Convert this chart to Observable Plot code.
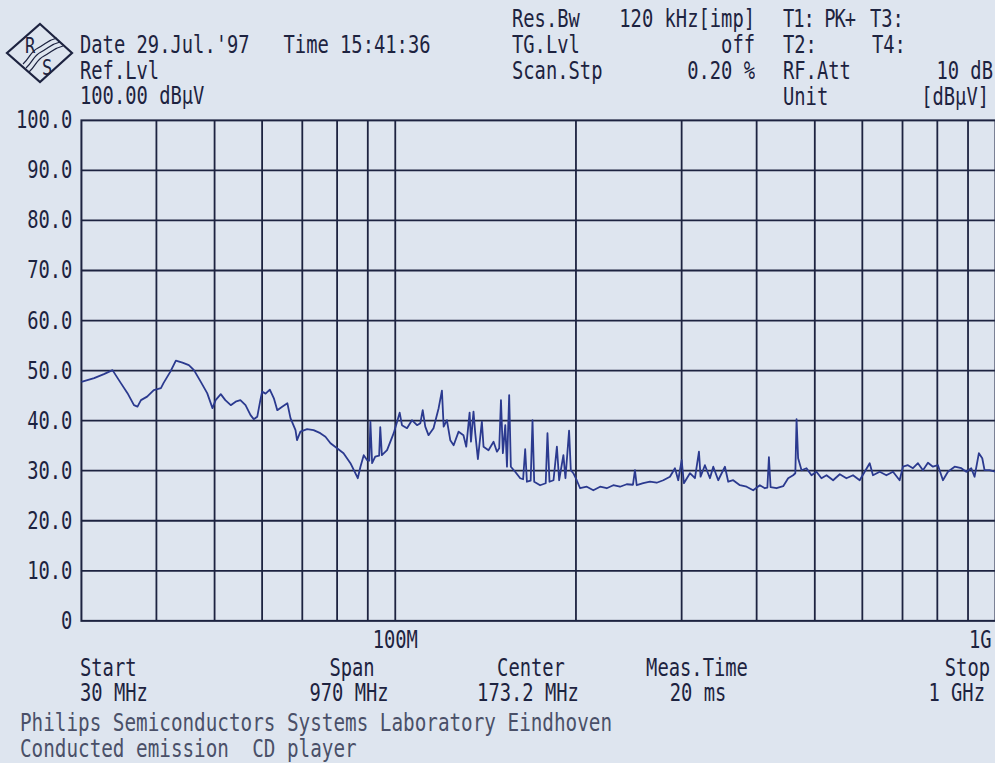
<!DOCTYPE html>
<html>
<head>
<meta charset="utf-8">
<script src="https://cdn.jsdelivr.net/npm/d3@7"></script>
<script src="https://cdn.jsdelivr.net/npm/@observablehq/plot@0.6"></script>
<style>
  html, body { margin: 0; padding: 0; background: #dee5ef; }
  #wrap { position: relative; width: 995px; height: 763px; overflow: hidden; background: #dee5ef; }
  #chart { position: absolute; left: 0; top: 0; }
  .t { position: absolute; font-family: "DejaVu Sans Mono", monospace; font-size: 18.8px; line-height: 14px;
       white-space: pre; color: #1d2340; transform: scaleY(1.32); transform-origin: 50% 50%; }
  .c { transform: translateX(-50%) scaleY(1.32); }
  .f { font-size: 19.3px; line-height: 14px; color: #4a5068; transform: scaleY(1.25); }
</style>
</head>
<body>
<div id="wrap">
  <div id="chart"></div>
  <svg style="position:absolute;left:0;top:0" width="80" height="90">
    <path d="M40 24 L72 53 L40 82 L7 53 Z" fill="none" stroke="#1d2340" stroke-width="2.2" stroke-linejoin="miter"/>
    <path d="M23 64 C30 58, 30 52, 38 48 S 48 40, 57 38" fill="none" stroke="#1d2340" stroke-width="1.2"/>
    <path d="M26 68 C33 62, 33 56, 41 52 S 51 44, 60 42" fill="none" stroke="#1d2340" stroke-width="1.2"/>
    <path d="M29 72 C36 66, 36 60, 44 56 S 54 48, 63 46" fill="none" stroke="#1d2340" stroke-width="1.2"/>
    <text x="25" y="53" font-family="DejaVu Sans Mono, monospace" font-size="17" fill="#1d2340" transform="translate(0,53) scale(1,1.25) translate(0,-53)">R</text>
    <text x="42" y="75" font-family="DejaVu Sans Mono, monospace" font-size="17" fill="#1d2340" transform="translate(0,75) scale(1,1.25) translate(0,-75)">S</text>
  </svg>

  <div class="t" style="left:80px;top:38px">Date 29.Jul.'97   Time 15:41:36</div>
  <div class="t" style="left:80px;top:64px">Ref.Lvl</div>
  <div class="t" style="left:80px;top:89px">100.00 dBµV</div>

  <div class="t" style="left:512px;top:12px">Res.Bw</div>
  <div class="t" style="right:240px;top:12px">120 kHz[imp]</div>
  <div class="t" style="left:783px;top:12px;letter-spacing:-1px">T1: PK+</div>
  <div class="t" style="left:870px;top:12px">T3:</div>

  <div class="t" style="left:512px;top:38px">TG.Lvl</div>
  <div class="t" style="right:240px;top:38px">off</div>
  <div class="t" style="left:783px;top:38px">T2:</div>
  <div class="t" style="left:872px;top:38px">T4:</div>

  <div class="t" style="left:512px;top:64px">Scan.Stp</div>
  <div class="t" style="right:240px;top:64px">0.20 %</div>
  <div class="t" style="left:783px;top:64px">RF.Att</div>
  <div class="t" style="right:2px;top:64px">10 dB</div>

  <div class="t" style="left:783px;top:90px">Unit</div>
  <div class="t" style="right:6px;top:90px">[dBµV]</div>

  <div class="t" style="left:80px;top:661px">Start</div>
  <div class="t" style="left:80px;top:686px">30 MHz</div>
  <div class="t c" style="left:352px;top:661px">Span</div>
  <div class="t c" style="left:349px;top:686px">970 MHz</div>
  <div class="t c" style="left:531px;top:661px">Center</div>
  <div class="t c" style="left:528px;top:686px">173.2 MHz</div>
  <div class="t c" style="left:697px;top:661px">Meas.Time</div>
  <div class="t c" style="left:698px;top:686px">20 ms</div>
  <div class="t" style="right:5px;top:661px">Stop</div>
  <div class="t" style="right:10px;top:686px">1 GHz</div>

  <div class="t f" style="left:20px;top:716px">Philips Semiconductors Systems Laboratory Eindhoven</div>
  <div class="t f" style="left:20px;top:742px">Conducted emission  CD player</div>
</div>
<script>
// Trace (frequency in MHz, level in dBµV)
const freqMHz = [
  30.1, 31.5, 32.7, 33.8, 34.9, 35.8, 36.7, 37.2, 37.7, 38.6, 39.6, 40.7, 41.1, 42.2, 43.1, 44.2, 45.3, 46.2,
  47.4, 48.6, 49.6, 50.2, 51.2, 52.1, 53.2, 54.2, 55.2, 56.3, 57.4, 58.1, 58.9, 59.6, 60.0, 60.8, 61.8, 62.8,
  63.6, 64.8, 66.1, 66.9, 68.2, 68.6, 69.5, 71.3, 73.1, 75.0, 76.5, 78.0, 80.0, 82.0, 84.2, 85.8, 86.6, 87.5,
  88.6, 89.8, 90.5, 90.9, 91.5, 92.6, 94.0, 94.4, 95.0, 96.9, 99.4, 100.7, 101.7, 102.6, 104.6, 106.6, 108.7,
  110.1, 111.1, 112.2, 113.6, 115.8, 118.1, 119.6, 120.4, 121.9, 123.5, 125.1, 127.5, 129.9, 131.3, 133.0,
  133.7, 135.0, 135.9, 137.3, 139.4, 140.3, 143.0, 145.8, 147.7, 149.0, 150.0, 151.1, 152.5, 153.5, 154.8,
  155.8, 158.4, 161.5, 163.3, 164.6, 165.7, 168.1, 169.3, 170.4, 174.3, 178.1, 179.3, 180.7, 183.5, 185.9,
  187.5, 190.6, 192.1, 194.8, 196.1, 198.0, 200.6, 203.2, 208.5, 213.8, 219.4, 225.1, 230.8, 236.8, 243.0,
  248.9, 250.8, 252.5, 258.9, 265.7, 272.6, 279.6, 286.8, 292.4, 296.1, 300.0, 302.6, 309.7, 315.7, 320.6,
  322.6, 328.0, 334.4, 338.7, 345.2, 354.2, 358.7, 365.6, 375.1, 384.9, 394.7, 405.0, 412.8, 416.8, 419.3,
  422.0, 431.8, 442.9, 451.4, 460.1, 464.0, 466.2, 469.0, 475.2, 484.3, 493.7, 503.2, 512.9, 523.0, 536.4,
  550.3, 564.5, 578.9, 594.0, 605.5, 617.2, 625.0, 641.4, 658.0, 674.9, 692.3, 701.2, 714.7, 728.6, 742.7,
  757.1, 771.7, 786.6, 801.9, 817.4, 833.2, 855.0, 877.1, 894.0, 911.3, 922.8, 938.3, 950.5, 959.0, 977.5, 1000
];
const levelDbuV = [
  47.8, 48.5, 49.3, 50.1, 47.5, 45.5, 43.1, 42.8, 44.1, 44.8, 46.1, 46.5, 47.5, 49.8, 52.0, 51.6, 51.1, 50.1,
  47.8, 45.5, 42.5, 44.1, 45.3, 44.1, 43.1, 43.8, 44.1, 43.1, 41.1, 40.3, 40.8, 44.1, 45.8, 45.4, 46.2, 44.4,
  42.1, 42.8, 43.5, 40.5, 38.1, 36.1, 37.8, 38.3, 38.1, 37.5, 36.8, 35.5, 34.5, 33.5, 31.5, 29.5, 28.5, 30.8,
  33.1, 32.1, 32.0, 39.8, 31.5, 32.8, 33.0, 38.7, 33.1, 34.1, 37.5, 39.8, 41.6, 39.1, 38.5, 40.1, 39.1,
  39.5, 42.1, 38.8, 37.1, 38.5, 42.5, 46.0, 38.8, 40.1, 36.1, 35.1, 37.8, 37.1, 34.8, 41.6,
  35.8, 41.8, 37.5, 32.3, 39.8, 34.8, 34.1, 35.8, 33.8, 34.5, 44.1, 33.5, 39.1, 30.8, 45.1,
  30.8, 29.8, 28.5, 28.3, 34.3, 27.8, 28.0, 40.1, 27.8, 27.1, 27.5, 37.5, 27.8, 28.1, 34.8,
  28.1, 33.1, 28.5, 38.0, 30.1, 29.5, 28.1, 26.5, 26.8, 26.1, 26.8, 26.5, 27.1, 26.8, 27.3,
  27.2, 30.1, 27.1, 27.5, 27.8, 27.6, 28.1, 28.8, 30.5, 28.1, 32.1, 27.5, 29.5, 28.5, 33.8,
  28.8, 31.1, 28.5, 30.8, 28.1, 30.8, 27.8, 28.1, 27.1, 26.8, 26.1, 27.1, 26.5, 26.6, 32.7,
  26.7, 26.5, 26.9, 28.5, 29.1, 29.5, 40.3, 32.5, 30.1, 30.5, 29.1, 29.8, 28.5, 29.1, 28.1,
  29.3, 28.5, 29.1, 28.1, 29.8, 31.5, 29.1, 29.8, 29.1, 29.8, 28.1, 30.8, 31.1, 30.5, 31.5,
  30.1, 31.6, 30.8, 31.1, 28.1, 29.8, 30.8, 30.5, 29.8, 30.5, 28.8, 33.5, 32.5, 30.1, 30.1, 29.8
];
const xGrid = [40, 50, 60, 70, 80, 90, 100, 200, 300, 400, 500, 600, 700, 800, 900];
const yGrid = [10, 20, 30, 40, 50, 60, 70, 80, 90];
const yTicks = [0, 10, 20, 30, 40, 50, 60, 70, 80, 90, 100];
const yTickLabels = ["0", "10.0", "20.0", "30.0", "40.0", "50.0", "60.0", "70.0", "80.0", "90.0", "100.0"];
const xTicks = [100, 1000];
const xTickLabels = ["100M", "1G"];

const ink = "#1d2340";
const traceColor = "#2b3a8f";
const data = freqMHz.map((f, i) => ({f, v: levelDbuV[i]}));

const chart = Plot.plot({
  width: 996,
  height: 763,
  marginTop: 120,
  marginBottom: 142,
  marginLeft: 81,
  marginRight: 0,
  style: {background: "transparent", color: ink, fontFamily: "'DejaVu Sans Mono', monospace", fontSize: "18.8px", overflow: "visible"},
  x: {type: "log", domain: [30, 1000], label: null},
  y: {domain: [0, 100], label: null},
  marks: [
    Plot.ruleX(xGrid, {stroke: ink, strokeWidth: 1.8}),
    Plot.ruleY(yGrid, {stroke: ink, strokeWidth: 1.8}),
    Plot.frame({stroke: ink, strokeWidth: 2}),
    Plot.line(data, {x: "f", y: "v", stroke: traceColor, strokeWidth: 1.8, strokeLinejoin: "round"}),
    Plot.axisY(yTicks, {tickSize: 0, tickPadding: 9, fontSize: 18.8, fill: ink, label: null,
      tickFormat: (d) => yTickLabels[yTicks.indexOf(d)]}),
    Plot.axisX([xTicks[0]], {tickSize: 0, tickPadding: 10, fontSize: 18.8, fill: ink, label: null,
      tickFormat: () => xTickLabels[0]}),
    Plot.axisX([xTicks[1]], {tickSize: 0, tickPadding: 10, fontSize: 18.8, fill: ink, textAnchor: "end", dx: -4, label: null,
      tickFormat: () => xTickLabels[1]})
  ]
});

// Stretch the tick labels vertically to mimic the tall plotter font
chart.querySelectorAll("text").forEach((t) => {
  const tr = t.getAttribute("transform");
  if (tr) t.setAttribute("transform", tr + " scale(1,1.32)");
  else {
    const x = +t.getAttribute("x") || 0, y = +t.getAttribute("y") || 0;
    t.setAttribute("transform", `translate(${x},${y}) scale(1,1.32) translate(${-x},${-y})`);
  }
});
document.getElementById("chart").appendChild(chart);
</script>
</body>
</html>
